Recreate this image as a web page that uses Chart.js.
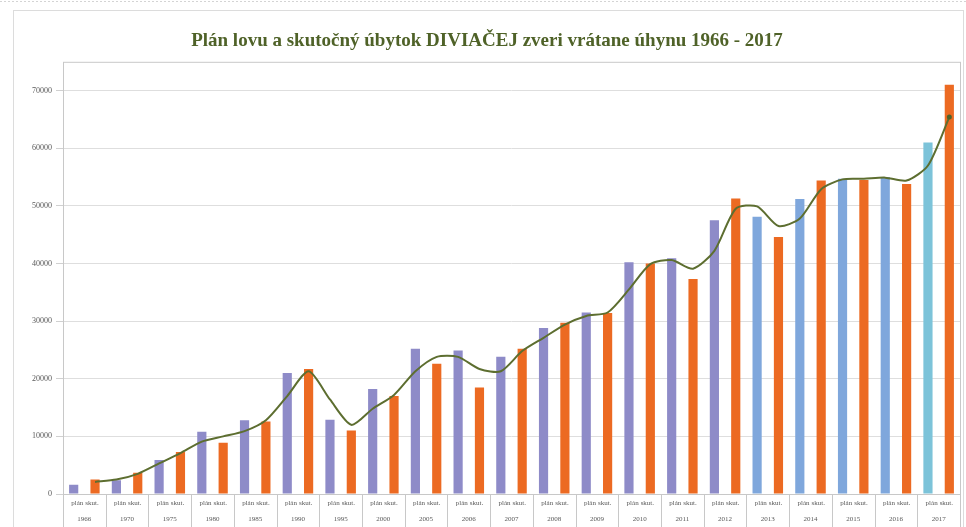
<!DOCTYPE html>
<html>
<head>
<meta charset="utf-8">
<script src="https://cdn.jsdelivr.net/npm/chart.js@4/dist/chart.umd.min.js"></script>
<style>
  html, body { margin: 0; padding: 0; background: #ffffff; }
  #wrap { width: 966px; height: 527px; position: relative; }
</style>
</head>
<body>
<div id="wrap"><canvas id="diviakChart" width="966" height="527"></canvas></div>
<script>
//--- data
var years = ['1966', '1970', '1975', '1980', '1985', '1990', '1995', '2000', '2005', '2006', '2007',
    '2008', '2009', '2010', '2011', '2012', '2013', '2014', '2015', '2016', '2017'];
var plan = [1600, 2400, 5900, 10800, 12800, 21000, 12900, 18200, 25200, 24900, 23800,
    28800, 31500, 40200, 40900, 47500, 48100, 51200, 54700, 55000, 61000];
var skut = [2500, 3700, 7300, 8900, 12600, 21700, 11000, 17000, 22600, 18500, 25200,
    29700, 31400, 40000, 37300, 51300, 44600, 54400, 54500, 53800, 71000];
// smoothed line, one value per bar slot (plán, skut., plán, skut. ...)
var trend = [null, 2100, 2500, 3500, 5300, 7100, 9100, 10000, 10900, 12800, 17000,
    21300, 16400, 12000, 14800, 17200, 21300, 23800, 23800, 21700, 21300,
    24800, 27100, 29400, 30900, 31500, 35500, 39900, 40600, 39100, 42200,
    49500, 49900, 46500, 47800, 52900, 54600, 54700, 54900, 54400, 57000, 65400];
var yTicks = [0, 10000, 20000, 30000, 40000, 50000, 60000, 70000];
var slotNames = ['plán', 'skut.'];

//--- build slots
var labels = [];
var planData = [];
var skutData = [];
var planColors = [];
years.forEach(function (y, i) {
    labels.push(slotNames[0], slotNames[1]);
    planData.push(plan[i], null);
    skutData.push(null, skut[i]);
    var yr = parseInt(y);
    var c = '#8e8bc8';
    if (yr >= 2013 && yr <= 2016) c = '#7fa7dc';
    if (yr === 2017) c = '#7cc3d9';
    planColors.push(c, c);
});

var pointSizes = trend.map(function (v, i) { return i === trend.length - 1 ? 2.5 : 0; });

// frame, plot box and the two-level category axis
var framePlugin = {
    id: 'frame',
    beforeDraw: function (chart) {
        var ctx = chart.ctx;
        ctx.save();
        ctx.fillStyle = '#ffffff';
        ctx.fillRect(0, 0, chart.width, chart.height);
        ctx.strokeStyle = '#d4d4d4';
        ctx.setLineDash([2, 2]);
        ctx.beginPath();
        ctx.moveTo(0, 1.5);
        ctx.lineTo(chart.width, 1.5);
        ctx.stroke();
        ctx.setLineDash([]);
        ctx.strokeStyle = '#dcdcdc';
        ctx.strokeRect(13.5, 10.5, 950, chart.height);
        ctx.restore();
    },
    afterDraw: function (chart) {
        var ctx = chart.ctx;
        var a = chart.chartArea;
        var x = chart.scales.x;
        ctx.save();
        ctx.strokeStyle = '#c8c8c8';
        ctx.lineWidth = 1;
        ctx.strokeRect(a.left + 0.5, a.top + 0.5, a.right - a.left, a.bottom - a.top);
        var slot = (a.right - a.left) / labels.length;
        ctx.beginPath();
        for (var k = 0; k <= labels.length; k += 2) {
            var px = Math.round(a.left + k * slot) + 0.5;
            ctx.moveTo(px, a.bottom);
            ctx.lineTo(px, chart.height);
        }
        ctx.stroke();
        ctx.fillStyle = '#595959';
        ctx.font = '7px "Liberation Serif"';
        ctx.textBaseline = 'middle';
        years.forEach(function (y, i) {
            var cx = (x.getPixelForValue(2 * i) + x.getPixelForValue(2 * i + 1)) / 2;
            ctx.textAlign = 'right';
            ctx.fillText(labels[2 * i], cx - 1, 503);
            ctx.textAlign = 'left';
            ctx.fillText(labels[2 * i + 1], cx + 1, 503);
            ctx.textAlign = 'center';
            ctx.fillText(y, cx, 519);
        });
        ctx.restore();
    }
};

var ctx = document.getElementById('diviakChart').getContext('2d');
var diviakChart = new Chart(ctx, {
    type: 'bar',
    data: {
        labels: labels,
        datasets: [
            {
                type: 'line',
                label: 'úbytok',
                data: trend,
                borderColor: '#5d6e30',
                backgroundColor: '#4f6228',
                borderWidth: 2,
                tension: 0.25,
                pointRadius: pointSizes,
                pointBorderWidth: 0,
                order: 0
            },
            {
                label: 'plán',
                data: planData,
                backgroundColor: planColors,
                barPercentage: 0.43,
                categoryPercentage: 1,
                order: 1
            },
            {
                label: 'skut.',
                data: skutData,
                backgroundColor: '#ec6a22',
                barPercentage: 0.43,
                categoryPercentage: 1,
                order: 2
            }
        ]
    },
    plugins: [framePlugin],
    options: {
        responsive: false,
        animation: false,
        layout: { padding: { left: 14, right: 6, top: 8, bottom: 0 } },
        plugins: {
            legend: { display: false },
            tooltip: { enabled: false },
            title: {
                display: true,
                text: 'Plán lovu a skutočný úbytok DIVIAČEJ zveri vrátane úhynu 1966 - 2017',
                color: '#4f6228',
                font: { family: '"Liberation Serif"', size: 19, weight: 'bold' },
                padding: { top: 22, bottom: 9 }
            }
        },
        scales: {
            x: {
                stacked: true,
                grid: { display: false },
                border: { display: false },
                ticks: { display: false },
                afterFit: function (scale) { scale.height = 33; }
            },
            y: {
                min: 0,
                max: 75000,
                grid: { color: '#dedede', tickLength: 7, tickColor: '#d0d0d0' },
                border: { display: false },
                ticks: {
                    stepSize: 10000,
                    color: '#595959',
                    padding: 4,
                    font: { family: '"Liberation Serif"', size: 8 },
                    callback: function (value) { return String(value); }
                },
                afterBuildTicks: function (scale) {
                    scale.ticks = yTicks.map(function (v) { return { value: v }; });
                },
                afterFit: function (scale) { scale.width = 49; }
            }
        }
    }
});
</script>
</body>
</html>
